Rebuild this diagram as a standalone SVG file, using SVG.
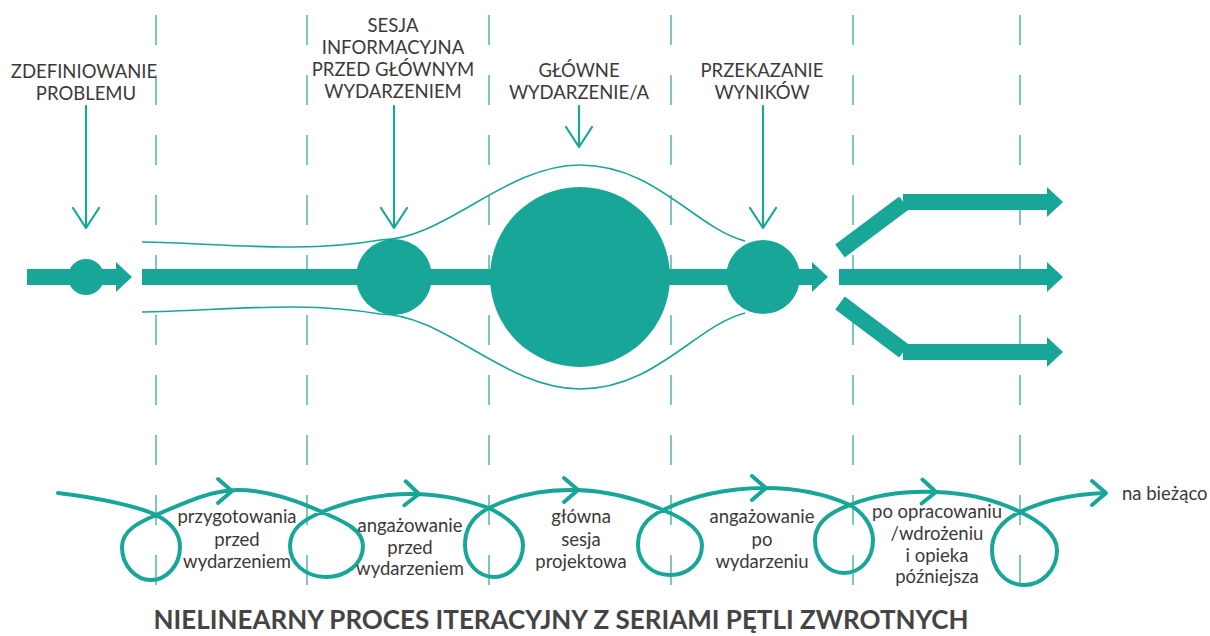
<svg xmlns="http://www.w3.org/2000/svg" width="1210" height="636" viewBox="0 0 1210 636">
  <style>
    .guide { stroke: #5fb8ae; stroke-width: 1.6; stroke-dasharray: 30 30; fill: none; }
    .thin { stroke: #17a698; stroke-width: 1.6; fill: none; }
    .drop { stroke: #17a698; stroke-width: 2.2; fill: none; stroke-linecap: round; stroke-linejoin: round; }
    .fill { fill: #17a698; }
    .loop { stroke: #17a698; stroke-width: 4; fill: none; stroke-linecap: round; stroke-linejoin: round; }
    .head { font-family: Lato, "Liberation Sans", sans-serif; font-size: 18.5px; fill: #3a3a3a; text-anchor: middle; }
    .lab { font-family: Lato, "Liberation Sans", sans-serif; font-size: 18.5px; fill: #3a3a3a; text-anchor: middle; }
    .title { font-family: Lato, "Liberation Sans", sans-serif; font-size: 26px; font-weight: bold; fill: #444444; text-anchor: middle; }
  </style>
  <defs>
    <path id="chev" d="M-14,-12 L0,0 L-14,12" class="loop"/>
    <path id="env" d="M142,242 C220,243 300,254 380,240 C445,240 505,165 580,165 C655,165 695,228 745,241" class="thin"/>
  </defs>
  <rect width="1210" height="636" fill="#ffffff"/>

  <!-- phase separators -->
  <g id="guides">
    <line x1="156" y1="15" x2="156" y2="590" class="guide"/>
    <line x1="307" y1="15" x2="307" y2="590" class="guide"/>
    <line x1="489" y1="15" x2="489" y2="590" class="guide"/>
    <line x1="671" y1="15" x2="671" y2="590" class="guide"/>
    <line x1="853" y1="15" x2="853" y2="590" class="guide"/>
    <line x1="1020" y1="15" x2="1020" y2="590" class="guide"/>
  </g>

  <!-- connectors: main flow, envelope, drop arrows, outgoing fan -->
  <g id="connectors">
    <use href="#env"/>
    <use href="#env" transform="matrix(1,0,0,-1,0,554)"/>
    <rect x="27" y="269" width="90" height="16" class="fill"/>
    <polygon points="116,262 132,277 116,292" class="fill"/>
    <rect x="142" y="269" width="672" height="16" class="fill"/>
    <polygon points="812,262 828,277 812,292" class="fill"/>

    <path d="M86,106 V228 M73,208 L86,228 L99,208" class="drop"/>
    <path d="M394,106 V228 M381,208 L394,228 L407,208" class="drop"/>
    <path d="M579,106 V147 M566,127 L579,147 L592,127" class="drop"/>
    <path d="M763,106 V228 M750,208 L763,228 L776,208" class="drop"/>

    <!-- outgoing fan -->
    <line x1="840" y1="251" x2="904" y2="203" stroke="#17a698" stroke-width="16"/>
    <rect x="903" y="194" width="146" height="16" class="fill"/>
    <polygon points="1047,187 1063,202 1047,217" class="fill"/>
    <rect x="839" y="269" width="210" height="16" class="fill"/>
    <polygon points="1047,262 1063,277 1047,292" class="fill"/>
    <line x1="840" y1="303" x2="904" y2="351" stroke="#17a698" stroke-width="16"/>
    <rect x="903" y="344" width="146" height="16" class="fill"/>
    <polygon points="1047,337 1063,352 1047,367" class="fill"/>

    <!-- iterative loop line -->
    <path class="loop" d="M58,493 C100,498 140,507 156,515
      C170,522 180,532 180,547 C180,566 166,580 151,580 C136,580 122,566 122,547 C122,530 140,522 156,515
      C186,502 212,490 238,490 C270,490 300,502 322,512
      C345,522 363,530 363,546 C363,565 345,577 326,577 C305,577 290,563 290,546 C290,528 305,519 322,512
      C350,500 385,493 415,494 C450,495 470,502 489,508
      C505,516 523,528 523,545 C523,565 508,577 494,577 C478,577 465,563 465,545 C465,527 475,515 489,508
      C515,495 545,489 577,490 C610,491 640,500 663,510
      C683,518 702,530 702,545 C702,563 688,575 670,575 C652,575 638,562 638,545 C638,528 648,517 663,510
      C690,497 725,488 765,488 C800,488 830,496 850,505
      C862,512 873,525 873,540 C873,560 860,573 844,573 C828,573 815,560 815,540 C815,522 833,511 850,505
      C875,495 905,491 935,492 C970,493 1000,502 1020,512
      C1040,521 1057,535 1057,550 C1057,570 1042,585 1024,585 C1006,585 992,570 992,550 C992,530 1005,519 1020,512
      C1045,500 1075,494 1105,493"/>
    <use href="#chev" transform="translate(232,491)"/>
    <use href="#chev" transform="translate(419,494) rotate(3)"/>
    <use href="#chev" transform="translate(578,490)"/>
    <use href="#chev" transform="translate(766,488)"/>
    <use href="#chev" transform="translate(936,492) rotate(2)"/>
    <use href="#chev" transform="translate(1106,493)"/>
  </g>

  <!-- stage nodes -->
  <g id="node-define">
    <circle cx="86" cy="277" r="18" class="fill"/>
    <text class="head" x="84" y="78">ZDEFINIOWANIE</text>
    <text class="head" x="86" y="100">PROBLEMU</text>
  </g>
  <g id="node-info-session">
    <circle cx="394" cy="277" r="38" class="fill"/>
    <text class="head" x="393" y="32">SESJA</text>
    <text class="head" x="393" y="54">INFORMACYJNA</text>
    <text class="head" x="393" y="76">PRZED GŁÓWNYM</text>
    <text class="head" x="393" y="98">WYDARZENIEM</text>
  </g>
  <g id="node-main-event">
    <circle cx="580" cy="277" r="90" class="fill"/>
    <text class="head" x="579" y="77">GŁÓWNE</text>
    <text class="head" x="579" y="99">WYDARZENIE/A</text>
  </g>
  <g id="node-results">
    <circle cx="763" cy="277" r="37" class="fill"/>
    <text class="head" x="762" y="77">PRZEKAZANIE</text>
    <text class="head" x="762" y="99">WYNIKÓW</text>
  </g>

  <!-- loop phase labels -->
  <g id="phase-prep">
    <text class="lab" x="237" y="523">przygotowania</text>
    <text class="lab" x="237" y="546">przed</text>
    <text class="lab" x="237" y="568">wydarzeniem</text>
  </g>
  <g id="phase-engage-before">
    <text class="lab" x="410" y="532">angażowanie</text>
    <text class="lab" x="410" y="554">przed</text>
    <text class="lab" x="410" y="575">wydarzeniem</text>
  </g>
  <g id="phase-main-session">
    <text class="lab" x="581" y="523">główna</text>
    <text class="lab" x="581" y="546">sesja</text>
    <text class="lab" x="581" y="568">projektowa</text>
  </g>
  <g id="phase-engage-after">
    <text class="lab" x="762" y="523">angażowanie</text>
    <text class="lab" x="762" y="546">po</text>
    <text class="lab" x="762" y="568">wydarzeniu</text>
  </g>
  <g id="phase-aftercare">
    <text class="lab" x="937" y="518">po opracowaniu</text>
    <text class="lab" x="937" y="540">/wdrożeniu</text>
    <text class="lab" x="937" y="562">i opieka</text>
    <text class="lab" x="937" y="583">późniejsza</text>
  </g>
  <g id="phase-ongoing">
    <text class="lab" x="1122" y="500" style="text-anchor:start">na bieżąco</text>
  </g>

  <text class="title" x="561" y="629">NIELINEARNY PROCES ITERACYJNY Z SERIAMI PĘTLI ZWROTNYCH</text>
</svg>
